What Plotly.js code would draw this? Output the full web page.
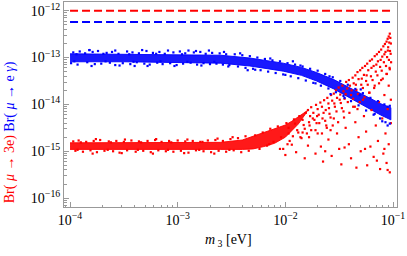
<!DOCTYPE html>
<html><head><meta charset="utf-8">
<script src="https://cdn.plot.ly/plotly-3.0.1.min.js"></script>
<style>html,body{margin:0;padding:0;background:#fff}#c{width:407px;height:256px}</style>
</head><body><div id="c"></div>
<script>
// All values are log10 (m3 in eV, Br)
const limitX = [-4.0, -1.0];
const limitMu3e = [-12.0, -12.0];
const limitMuEg = [-12.24, -12.24];

// dense band envelopes
const blueBandX  = [-4.00,-3.50,-3.00,-2.60,-2.33,-2.02,-1.85,-1.71,-1.55,-1.40,-1.24,-1.12,-1.02];
const blueBandHi = [-12.92,-12.93,-12.93,-12.95,-13.01,-13.12,-13.21,-13.32,-13.47,-13.65,-13.84,-13.98,-14.07];
const blueBandLo = [-13.09,-13.09,-13.10,-13.12,-13.18,-13.29,-13.38,-13.50,-13.67,-13.87,-14.07,-14.22,-14.33];

const redBandX  = [-4.00,-3.50,-3.00,-2.60,-2.40,-2.30,-2.20,-2.10,-2.00,-1.94,-1.88,-1.80];
const redBandHi = [-14.82,-14.82,-14.82,-14.81,-14.76,-14.68,-14.60,-14.52,-14.44,-14.36,-14.27,-14.14];
const redBandLo = [-14.96,-14.96,-14.96,-14.96,-14.96,-14.95,-14.90,-14.83,-14.70,-14.56,-14.42,-14.16];

// individual points
const blueX = [
-3.97,-3.91,-3.86,-3.79,-3.74,-3.66,-3.61,-3.55,-3.47,-3.42,-3.36,-3.29,-3.23,-3.17,-3.12,-3.04,-2.98,-2.93,-2.85,-2.79,-2.74,-2.68,-2.61,-2.55,
-3.99,-3.93,-3.84,-3.77,-3.71,-3.63,-3.58,-3.51,-3.44,-3.38,-3.31,-3.26,-3.19,-3.14,-3.07,-3.01,-2.95,-2.88,-2.82,-2.76,-2.70,-2.64,-2.58,-2.52,
-3.94,-3.82,-3.69,-3.58,-3.45,-3.33,-3.20,-3.09,-2.96,-2.83,-2.71,-2.57,
-3.96,-3.80,-3.67,-3.54,-3.41,-3.28,-3.16,-3.03,-2.91,-2.78,-2.66,-2.53,
-2.47,-2.40,-2.33,-2.26,-2.19,-2.12,-2.05,-1.98,-1.91,-1.84,-1.77,-1.70,-1.63,-1.56,-1.49,-1.42,-1.35,-1.28,-1.21,-1.14,-1.08,-1.03,
-2.44,-2.37,-2.30,-2.23,-2.16,-2.09,-2.02,-1.95,-1.88,-1.81,-1.74,-1.67,-1.60,-1.53,-1.46,-1.39,-1.32,-1.25,-1.18,-1.12,-1.07,-1.03,
-2.42,-2.28,-2.14,-2.00,-1.86,-1.72,-1.59,-1.45,-1.31,-1.17,-1.05,
-3.82,-3.40,-2.90,-2.35,-1.93,-1.58,-1.30,-1.10,-1.05];
const blueY = [
-12.89,-12.87,-12.91,-12.88,-12.86,-12.90,-12.88,-12.92,-12.87,-12.89,-12.91,-12.86,-12.90,-12.88,-12.92,-12.89,-12.87,-12.91,-12.89,-12.88,-12.92,-12.90,-12.91,-12.93,
-13.12,-13.15,-13.10,-13.14,-13.13,-13.11,-13.16,-13.12,-13.14,-13.10,-13.13,-13.15,-13.11,-13.14,-13.12,-13.16,-13.13,-13.11,-13.15,-13.12,-13.14,-13.13,-13.15,-13.16,
-12.93,-12.84,-12.92,-12.85,-12.93,-12.84,-12.92,-12.85,-12.93,-12.86,-12.85,-12.88,
-13.08,-13.18,-13.08,-13.17,-13.09,-13.18,-13.08,-13.18,-13.09,-13.17,-13.09,-13.19,
-12.93,-12.95,-12.97,-13.00,-13.03,-13.06,-13.08,-13.12,-13.15,-13.19,-13.24,-13.28,-13.35,-13.42,-13.50,-13.58,-13.67,-13.76,-13.86,-13.93,-14.00,-14.03,
-13.19,-13.22,-13.24,-13.27,-13.30,-13.33,-13.36,-13.40,-13.44,-13.49,-13.54,-13.60,-13.66,-13.74,-13.82,-13.93,-14.02,-14.13,-14.22,-14.30,-14.38,-14.41,
-12.91,-13.26,-13.02,-13.37,-13.17,-13.55,-13.40,-13.86,-13.80,-14.20,-14.05,
-12.84,-13.18,-12.85,-13.27,-13.08,-13.78,-13.68,-14.36,-14.45];

const redX = [
-3.97,-3.92,-3.85,-3.78,-3.72,-3.64,-3.57,-3.50,-3.43,-3.36,-3.28,-3.21,-3.15,-3.08,-3.00,-2.93,-2.86,-2.79,-2.72,-2.65,-2.58,-2.51,-2.44,-2.37,
-3.95,-3.88,-3.81,-3.75,-3.68,-3.60,-3.54,-3.47,-3.39,-3.32,-3.25,-3.18,-3.11,-3.04,-2.97,-2.90,-2.83,-2.76,-2.69,-2.62,-2.55,-2.48,-2.41,-2.34,
-3.90,-3.76,-3.62,-3.49,-3.34,-3.20,-3.06,-2.91,-2.77,-2.63,-2.49,
-3.93,-3.79,-3.65,-3.52,-3.37,-3.23,-3.09,-2.94,-2.80,-2.66,-2.52,
-2.28,-2.24,-2.21,-2.17,-2.14,-2.11,-2.07,-2.04,-2.02,-1.99,-1.97,-1.94,-1.92,-1.89,-1.87,-1.85,-1.83,-1.81,-1.80,-1.78,
-1.79,-1.77,-1.76,-1.74,-1.73,-1.715,-1.70,-1.69,-1.675,-1.66,-1.655,-1.64,-1.625,-1.61,-1.60,-1.59,-1.575,-1.565,-1.55,-1.54,-1.53,-1.52,-1.505,-1.49,-1.485,-1.47,-1.46,-1.45,-1.435,-1.425,-1.41,-1.40,-1.39,-1.375,-1.365,-1.35,-1.34,-1.33,-1.32,-1.305,-1.295,-1.285,-1.27,-1.26,-1.25,-1.24,-1.23,-1.215,-1.205,-1.195,-1.18,-1.17,-1.16,-1.15,-1.14,-1.13,-1.12,-1.11,-1.10,-1.09,-1.085,-1.075,-1.07,-1.06,-1.055,-1.05,-1.045,-1.04,-1.035,-1.03,-1.028,-1.025,-1.02,
-1.97,-1.93,-1.91,-1.88,-1.84,-1.82,-1.78,-1.775,-1.745,-1.72,-1.705,-1.685,-1.66,-1.645,-1.63,-1.615,-1.595,-1.58,-1.56,-1.545,-1.525,-1.51,-1.495,-1.475,-1.455,-1.44,-1.42,-1.405,-1.385,-1.37,-1.355,-1.345,-1.325,-1.31,-1.29,-1.28,-1.265,-1.245,-1.235,-1.22,-1.20,-1.19,-1.175,-1.155,-1.145,-1.13,-1.115,-1.105,-1.095,-1.08,-1.065,-1.058,-1.048,-1.038,-1.032,-1.022,-1.018,
-2.15,-2.05,-2.00,-1.96,-1.90,-1.86,-1.82,-1.79,-1.76,-1.72,-1.70,-1.67,-1.65,-1.62,-1.60,-1.57,-1.55,-1.52,-1.50,-1.48,-1.46,-1.44,-1.41,-1.39,-1.37,-1.35,-1.34,-1.32,-1.30,-1.28,-1.27,-1.25,-1.24,-1.22,-1.21,-1.20,-1.18,-1.17,-1.16,-1.14,-1.13,-1.12,-1.11,-1.10,-1.09,-1.08,-1.07,-1.06,-1.06,-1.05,-1.04,-1.04,-1.03,-1.03,-1.02,-1.02,-1.05,-1.08,-1.15,-1.26,-1.33,-1.45,-1.58,-1.63,-1.71,-1.84,-1.98];
const redY = [
-14.79,-14.77,-14.80,-14.78,-14.76,-14.79,-14.78,-14.80,-14.77,-14.79,-14.78,-14.76,-14.80,-14.78,-14.77,-14.79,-14.78,-14.80,-14.77,-14.76,-14.78,-14.74,-14.72,-14.68,
-14.99,-15.01,-14.98,-15.02,-14.99,-15.00,-15.03,-14.98,-15.01,-14.99,-15.02,-14.98,-15.00,-15.01,-14.99,-15.03,-14.98,-15.00,-15.02,-14.99,-15.01,-14.98,-15.02,-14.99,
-14.81,-14.74,-14.81,-14.75,-14.81,-14.74,-14.81,-14.75,-14.80,-14.73,-14.70,
-14.97,-15.05,-14.97,-15.04,-14.97,-15.05,-14.97,-15.04,-14.97,-15.05,-14.97,
-14.66,-14.95,-14.60,-14.88,-14.52,-14.80,-14.47,-14.70,-14.95,-14.40,-14.62,-14.86,-14.32,-14.55,-14.25,-14.72,-14.44,-14.18,-14.62,-14.38,
-14.12,-14.25,-14.06,-14.18,-14.33,-14.01,-14.10,-14.22,-13.96,-14.05,-14.30,-13.91,-14.12,-13.86,-13.98,-14.20,-13.80,-13.92,-13.77,-14.05,-13.70,-13.86,-13.64,-13.79,-13.97,-13.60,-13.72,-13.88,-13.52,-13.66,-13.48,-13.60,-13.80,-13.43,-13.55,-13.38,-13.69,-13.31,-13.46,-13.27,-13.58,-13.22,-13.37,-13.18,-13.50,-13.13,-13.27,-13.07,-13.40,-13.04,-13.18,-12.97,-13.30,-12.93,-13.08,-12.88,-13.20,-12.83,-12.98,-12.76,-13.10,-12.71,-12.88,-12.66,-12.99,-12.60,-12.78,-12.55,-12.68,-12.49,-12.86,-12.58,-12.70,
-14.50,-14.68,-14.41,-14.60,-14.33,-14.52,-14.70,-14.45,-14.30,-14.55,-14.25,-14.40,-14.62,-14.18,-14.35,-14.50,-14.08,-14.28,-14.45,-13.98,-14.15,-14.38,-13.90,-14.08,-14.28,-13.78,-13.95,-14.18,-13.70,-13.88,-14.05,-13.58,-13.78,-13.95,-13.45,-13.65,-13.85,-13.38,-13.58,-13.75,-13.22,-13.48,-13.65,-13.15,-13.38,-13.55,-13.05,-13.28,-13.45,-12.93,-13.18,-13.35,-12.85,-13.05,-13.22,-12.92,-13.10,
-14.85,-14.95,-15.08,-14.78,-15.02,-14.70,-15.15,-14.88,-14.55,-15.05,-14.62,-14.90,-15.22,-14.45,-14.75,-15.10,-14.30,-14.62,-14.95,-15.28,-14.15,-14.50,-14.85,-15.15,-14.05,-14.38,-15.35,-14.70,-15.00,-13.90,-14.25,-14.58,-15.30,-13.75,-14.90,-14.12,-15.12,-13.60,-14.45,-14.78,-13.95,-15.38,-13.48,-14.30,-15.05,-13.80,-14.62,-13.35,-15.25,-14.10,-13.60,-14.85,-15.45,-13.25,-14.40,-13.90,-15.40,-14.95,-15.20,-14.95,-14.10,-14.92,-14.55,-15.00,-14.40,-14.60,-14.85];

const xTickVals = [-4,-3,-2,-1];
const yTickVals = [-16,-15,-14,-13,-12];

const p = v => v.map(e => Math.pow(10, e));
function band(x, hi, lo, color) {
  return {x: p(x.concat(x.slice().reverse())), y: p(hi.concat(lo.slice().reverse())),
    mode: 'lines', fill: 'toself', fillcolor: color, line: {color: color, width: 1},
    hoverinfo: 'skip', showlegend: false};
}
const traces = [
  band(redBandX, redBandHi, redBandLo, 'rgba(255,0,0,0.9)'),
  band(blueBandX, blueBandHi, blueBandLo, 'rgba(0,0,255,0.9)'),
  {x: p(redX), y: p(redY), mode: 'markers', marker: {color: '#ff0000', size: 2.2, symbol: 'square'}, showlegend: false},
  {x: p(blueX), y: p(blueY), mode: 'markers', marker: {color: '#0000ff', size: 2.2, symbol: 'square'}, showlegend: false},
  {x: p(limitX), y: p(limitMu3e), mode: 'lines', line: {color: '#ff0000', width: 2, dash: '8px,4px'}, showlegend: false},
  {x: p(limitX), y: p(limitMuEg), mode: 'lines', line: {color: '#0000ff', width: 2, dash: '8px,4px'}, showlegend: false}
];
const font = {family: 'Liberation Serif, Times New Roman, serif', size: 14, color: '#000'};
const axisCommon = {type: 'log', showgrid: false, zeroline: false, showline: true, linecolor: '#999', linewidth: 1,
  mirror: true, ticks: 'inside', ticklen: 5, tickcolor: '#999', tickfont: font,
  minor: {ticks: 'inside', ticklen: 2.5, tickcolor: '#999', dtick: 'D1', showgrid: false}};
const layout = {
  width: 407, height: 256, margin: {l: 64, r: 10, t: 2, b: 49},
  paper_bgcolor: '#fff', plot_bgcolor: '#fff', font: font, showlegend: false,
  xaxis: Object.assign({}, axisCommon, {range: [-4.056, -0.963], tickvals: p(xTickVals),
    ticktext: xTickVals.map(v => '10<sup>\u2212' + Math.abs(v) + '</sup>')}),
  yaxis: Object.assign({}, axisCommon, {range: [-16.19, -11.814], tickvals: p(yTickVals),
    ticktext: yTickVals.map(v => '10<sup>\u2212' + Math.abs(v) + '</sup>')}),
  annotations: [
    {xref: 'paper', yref: 'paper', x: 0.4925, y: -0.161, showarrow: false, xanchor: 'center', yanchor: 'middle',
     text: '<i>m</i><sub> 3</sub> [eV]', font: font},
    {xref: 'paper', yref: 'paper', x: -0.162, y: 0.365, showarrow: false, xanchor: 'center', yanchor: 'middle', textangle: -90,
     text: "<span style='color:#ff0000'>Br( <i>\u03bc</i> \u2192 3e)</span> <span style='color:#0000ff'>Br( <i>\u03bc</i> \u2192 e <i>\u03b3</i>)</span>", font: font}
  ]
};
Plotly.newPlot('c', traces, layout, {displayModeBar: false, staticPlot: true});
</script></body></html>
